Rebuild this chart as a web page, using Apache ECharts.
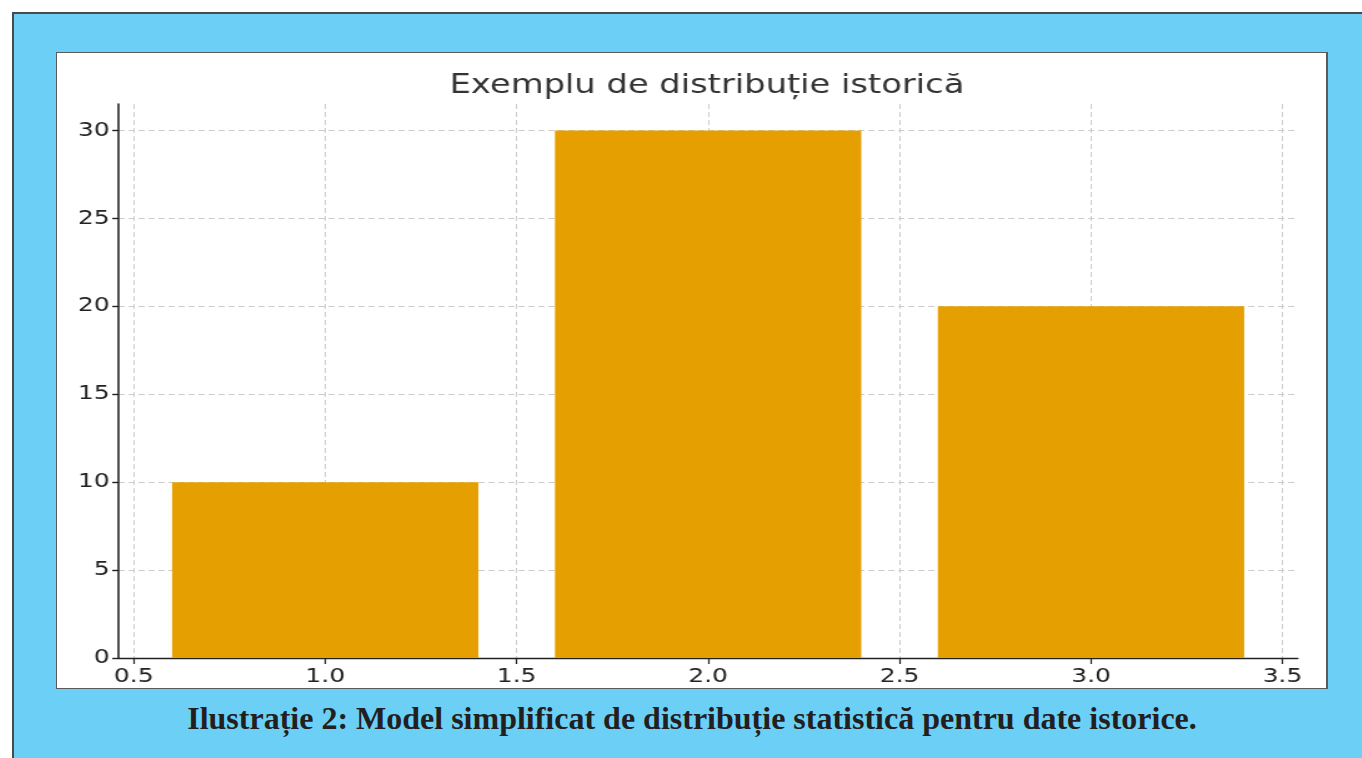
<!DOCTYPE html>
<html>
<head>
<meta charset="utf-8">
<script src="https://cdn.jsdelivr.net/npm/echarts@6/dist/echarts.min.js"></script>
<style>
  html, body { margin: 0; padding: 0; background: #ffffff; width: 1362px; height: 758px; overflow: hidden; }
  #frame { position: absolute; left: 12px; top: 12px; right: 0; bottom: 0; background: #6ccff6;
           border-top: 2px solid #4a4a4a; border-left: 2px solid #4a4a4a; }
  #panel { position: absolute; left: 56px; top: 52px; width: 1272px; height: 637px; background: #ffffff;
           box-sizing: border-box; border: 1px solid #5a5a5a; border-right-width: 2px; overflow: hidden; }
  #chart { position: absolute; left: -1px; top: -1px; width: 1018px; height: 637px;
           transform: scaleX(1.2495); transform-origin: 0 0; }
  #caption { position: absolute; left: 56px; width: 1272px; top: 702px; text-align: center;
             font-family: "Liberation Serif", "DejaVu Serif", serif; font-weight: bold; font-size: 32px;
             line-height: 32px; color: #231f20; white-space: nowrap; }
</style>
</head>
<body>
<div id="frame"></div>
<div id="panel"><div id="chart"></div></div>
<div id="caption">Ilustrație 2: Model simplificat de distribuție statistică pentru date istorice.</div>
<script>
// ---- data ----
const TITLE = 'Exemplu de distribuție istorică';
const xPositions = [1.0, 2.0, 3.0];
const values = [10, 30, 20];
const xTicks = [0.5, 1.0, 1.5, 2.0, 2.5, 3.0, 3.5];
const yTicks = [0, 5, 10, 15, 20, 25, 30];
const X_MIN = 0.46, X_MAX = 3.54;
const Y_MIN = 0, Y_MAX = 31.5;
const BAR_WIDTH = 0.8;

const barColor = '#E69F00';
const chart = echarts.init(document.getElementById('chart'), null, { renderer: 'canvas' });

const seriesData = xPositions.map((x, i) => [x, values[i]]);

const option = {
  animation: false,
  backgroundColor: 'transparent',
  graphic: [{
    type: 'text',
    x: 521, y: 20,
    style: {
      text: TITLE,
      textAlign: 'center',
      textVerticalAlign: 'top',
      fill: '#333333',
      font: 'normal 27px "DejaVu Sans"'
    }
  }],
  grid: { left: 50, top: 52, width: 943.8, height: 554, containLabel: false },
  xAxis: {
    type: 'value', min: X_MIN, max: X_MAX,
    axisLine: { show: true, onZero: false, lineStyle: { color: '#222', width: 1.4 } },
    axisTick: { show: true, length: 6, customValues: xTicks, lineStyle: { color: '#222', width: 1.2 } },
    axisLabel: { customValues: xTicks, formatter: v => Number(v).toFixed(1), margin: 9,
                 fontFamily: 'DejaVu Sans', fontSize: 20, color: '#222' },
    splitLine: { show: true, lineStyle: { color: '#cccccc', width: 1, type: [5, 3] } }
  },
  yAxis: {
    type: 'value', min: Y_MIN, max: Y_MAX,
    axisLine: { show: true, lineStyle: { color: '#222', width: 1.6 } },
    axisTick: { show: true, length: 5, customValues: yTicks, lineStyle: { color: '#222', width: 1.4 } },
    axisLabel: { customValues: yTicks, margin: 7, fontFamily: 'DejaVu Sans', fontSize: 20, color: '#222' },
    splitLine: { show: true, lineStyle: { color: '#cccccc', width: 1, type: [5, 3] } }
  },
  series: [{
    type: 'custom',
    data: seriesData,
    z: 3,
    renderItem: function (params, api) {
      const x = api.value(0), v = api.value(1);
      const p0 = api.coord([x - BAR_WIDTH / 2, v]);
      const p1 = api.coord([x + BAR_WIDTH / 2, 0]);
      return {
        type: 'rect',
        shape: { x: p0[0], y: p0[1], width: p1[0] - p0[0], height: p1[1] - p0[1] },
        style: { fill: barColor }
      };
    }
  }]
};
chart.setOption(option);
</script>
</body>
</html>
